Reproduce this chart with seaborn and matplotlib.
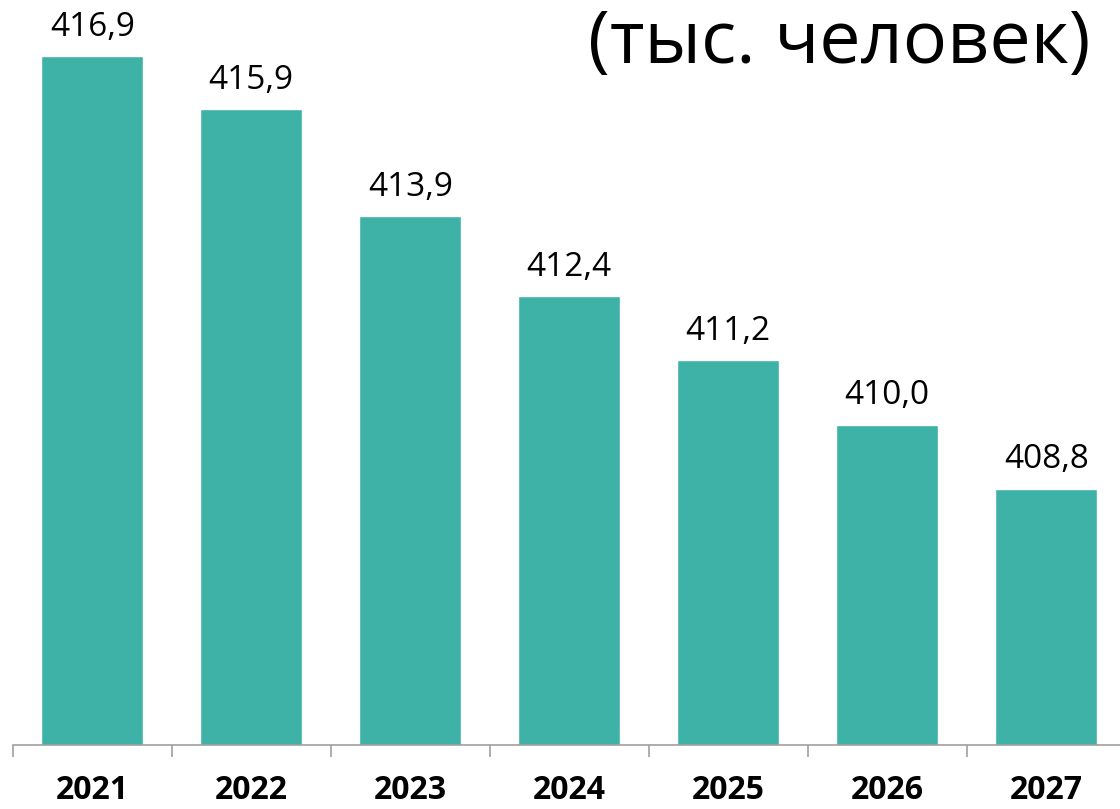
import matplotlib
matplotlib.use("Agg")
import matplotlib.pyplot as plt
import seaborn as sns

years = ["2021", "2022", "2023", "2024", "2025", "2026", "2027"]
population = [416.9, 415.9, 413.9, 412.4, 411.2, 410.0, 408.8]
title = "(тыс. человек)"

sns.set_theme(style="white")
plt.rcParams["font.family"] = ["Open Sans", "DejaVu Sans"]

fig = plt.figure(figsize=(11.2, 8.09), dpi=100)
ax = fig.add_axes([12.7 / 1120, 64 / 809, 1113 / 1120, 745 / 809])

sns.barplot(x=years, y=population, color="#3FB2A8", saturation=1,
            width=0.64, ax=ax)
ax.set_ylim(404.0, 417.95)
ax.set_xlim(-0.5, len(years) - 0.5)

labels = [f"{v:.1f}".replace(".", ",") for v in population]
ax.bar_label(ax.containers[0], labels=labels, padding=9, fontsize=24,
             color="black")

# axis styling: only the bottom line, ticks between categories
for side in ["left", "right", "top"]:
    ax.spines[side].set_visible(False)
ax.spines["bottom"].set_color("#A0A0A0")
ax.spines["bottom"].set_linewidth(1.2)
ax.set_yticks([])
ax.set_xticks([i - 0.5 for i in range(len(years) + 1)], minor=True)
ax.tick_params(axis="x", which="minor", length=8.6, width=1.2,
               color="#A0A0A0", bottom=True)
ax.tick_params(axis="x", which="major", length=0, pad=21, labelcolor="black")
for t in ax.get_xticklabels():
    t.set_fontsize(23)
    t.set_fontweight("bold")
ax.set_xlabel("")
ax.set_ylabel("")

fig.text(1090 / 1120, 1 - 44 / 809, title, ha="right", va="center",
         fontsize=53, color="black")

fig.savefig("out.png", dpi=100)
